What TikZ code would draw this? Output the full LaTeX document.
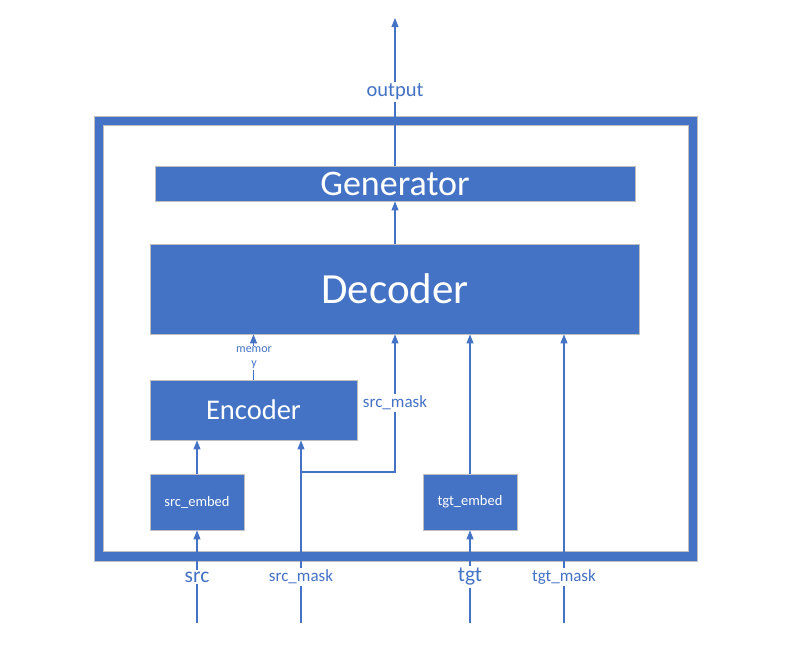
\documentclass[tikz,border=0pt]{standalone}
\usepackage{fontspec}
\setmainfont{Carlito}
\usetikzlibrary{arrows.meta}
\definecolor{ofblue}{HTML}{4472C4}
\definecolor{edgegray}{HTML}{BFBFBF}
\tikzset{
  blk/.style={draw=edgegray, line width=0.8pt, fill=ofblue, text=white, inner sep=0pt, anchor=center},
  arr/.style={draw=ofblue, line width=1.1pt, -{Triangle[length=9pt,width=7pt]}},
  lbl/.style={fill=white, text=ofblue, inner sep=2pt},
}
\begin{document}
\begin{tikzpicture}[x=1pt,y=-1pt]
\useasboundingbox (0,0) rectangle (790,645);
% frame
\draw[draw=edgegray, line width=0.8pt, fill=ofblue] (94,116) rectangle (697,561);
\draw[draw=edgegray, line width=0.8pt, fill=white] (103,125) rectangle (688,551);
% blocks
\node[blk, minimum width=480pt, minimum height=35pt, font=\fontsize{36}{42}\selectfont] (gen) at (395,183.5) {Generator};
\node[blk, minimum width=489pt, minimum height=90pt, font=\fontsize{43}{50}\selectfont] (dec) at (395,289) {Decoder};
\node[blk, minimum width=207pt, minimum height=60pt, font=\fontsize{28.5}{33}\selectfont] (enc) at (253.5,410) {Encoder};
\node[blk, minimum width=94pt, minimum height=56pt, font=\fontsize{14.5}{17}\selectfont] (semb) at (197,502) {src\_embed};
\node[blk, minimum width=94pt, minimum height=56pt, font=\fontsize{14.5}{17}\selectfont] (temb) at (470,502) {tgt\_embed};
% free ends
\coordinate (outtop) at (395,18);
\coordinate (sin) at (197,623);
\coordinate (smin) at (301,623);
\coordinate (tin) at (470,623);
\coordinate (tmin) at (564,623);
\coordinate (br) at (301,472);
% connectors
\draw[arr] (gen.north) -- (outtop);
\draw[arr] (dec.north) -- (gen.south);
\draw[arr] (enc.north) -- (enc.north |- dec.south);
\draw[arr] (sin) -- (semb.south);
\draw[arr] (semb.north) -- (semb.north |- enc.south);
\draw[arr] (smin) -- (smin |- enc.south);
\draw[arr] (br) -| (dec.south);
\draw[arr] (tin) -- (temb.south);
\draw[arr] (temb.north) -- (temb.north |- dec.south);
\draw[arr] (tmin) -- (tmin |- dec.south);
% labels
\node[lbl, font=\fontsize{20.5}{24}\selectfont] (outl) at (395,92) {output};
\node[lbl, inner sep=1pt, align=center, font=\fontsize{12}{14}\selectfont] (meml) at (254,358) {memor\\y};
\node[lbl, font=\fontsize{17}{20}\selectfont] (sml) at (395,403) {src\_mask};
\node[lbl, font=\fontsize{21.5}{25}\selectfont] (srcl) at (197,577) {src};
\node[lbl, font=\fontsize{17}{20}\selectfont] (sml2) at (301,577) {src\_mask};
\node[lbl, font=\fontsize{21.5}{25}\selectfont] (tgtl) at (470,577) {tgt};
\node[lbl, font=\fontsize{17}{20}\selectfont] (tml) at (564,577) {tgt\_mask};
\end{tikzpicture}
\end{document}
